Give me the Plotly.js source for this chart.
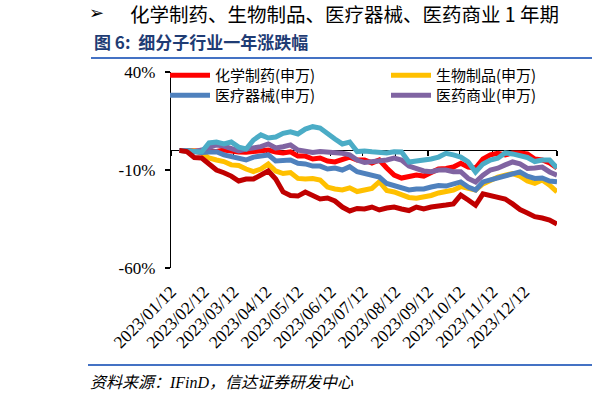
<!DOCTYPE html>
<html>
<head>
<meta charset="utf-8">
<script src="https://cdn.plot.ly/plotly-3.0.1.min.js"></script>
<style>
  body { margin: 0; background: #fff; }
  #chart { width: 597px; height: 401px; }
</style>
</head>
<body>
<div id="chart"></div>
<script>
// weekly closes, % change since start
let dates = ['2023-01-20','2023-01-27','2023-02-03','2023-02-10','2023-02-17','2023-02-24','2023-03-03','2023-03-10','2023-03-17','2023-03-24',
  '2023-03-31','2023-04-07','2023-04-14','2023-04-21','2023-04-28','2023-05-05','2023-05-12','2023-05-19','2023-05-26','2023-06-02',
  '2023-06-09','2023-06-16','2023-06-23','2023-06-30','2023-07-07','2023-07-14','2023-07-21','2023-07-28','2023-08-04','2023-08-11',
  '2023-08-18','2023-08-25','2023-09-01','2023-09-08','2023-09-15','2023-09-22','2023-09-29','2023-10-06','2023-10-13','2023-10-20',
  '2023-10-27','2023-11-03','2023-11-10','2023-11-17','2023-11-24','2023-12-01','2023-12-08','2023-12-15','2023-12-22','2023-12-29',
  '2024-01-05','2024-01-12'];

let chemPharma = [0,0,-0.3,0,-0.3,-0.5,0.2,-0.5,-0.8,-1, -0.5,0,0.2,-0.8,-1.3,-0.7,-2.9,-2.9,-4.4,-3.9,
  -5.4,-5.9,-4.9,-3.4,-4.9,-4.9,-6.4,-4.9,-9,-12.6, -14.1,-13.6,-12.6,-13.1,-11,-9.5,-9.2,-8.5,-6.6,-8.5,
  -9,-4.4,-2.3,-1.5,-2.3,-1.3,-1.3,-1.8,-4.4,-4.9, -6.4,-9];
let bioProducts = [0,0,-0.3,-1.3,-3.9,-4.9,-5.7,-7.4,-7.7,-9.5, -10.8,-9.5,-6.9,-10.5,-11.8,-11.3,-14.3,-14.6,-14.3,-15.1,
  -18.7,-19.7,-20.2,-19.1,-21,-20.2,-19.4,-16,-20.5,-21.2, -22.8,-24,-24.4,-23.8,-23,-21.7,-21.1,-20.2,-18.5,-19.4,
  -20.2,-17.1,-15.1,-13.6,-12.6,-11.8,-13.1,-15.6,-16.8,-15.1, -17.7,-21.2];
let devices = [0,0,-0.7,-1.1,-0.8,-0.7,-2.3,-3.1,-3.9,-4.9, -3.4,-2.6,-2.3,-5.4,-5.2,-4.9,-6.6,-6.9,-8,-8,
  -9.5,-9,-10,-8.3,-10.9,-12,-12.6,-13.6,-16.9,-17.9, -19.2,-20.2,-19.7,-19.7,-18.7,-17.9,-18.2,-17.4,-16.1,-18.7,
  -20.2,-16.1,-15.1,-14.1,-12.6,-11.5,-11,-13.1,-14.3,-14.1, -15.6,-16];
let commerce = [0,0,-0.6,0.2,1.7,2.8,2.2,1.2,-0.3,0.7, 1.2,1.9,3.3,1.2,1.9,2.8,0.2,-0.7,-1.1,-0.6,
  -0.8,-1.5,-1.5,-2.3,-4.9,-6.2,-5.9,-5.8,-4.9,-3.9, -4.9,-8,-9.5,-10.5,-10.9,-10,-10,-10.9,-10.9,-14.3,
  -16.1,-12.6,-10,-9.1,-7.4,-5.9,-6.9,-9.2,-9,-8.5, -11,-12.6];
let tcm = [0,0,-0.5,-0.8,3.8,4.3,3.3,4.3,1.7,0.7, 5.3,7.9,6.3,6.8,8.7,9.5,8.4,10.9,12.1,11.4,
  8.4,5.8,3.3,4.3,-0.6,-0.3,-0.7,-0.8,-1.3,-0.7, -0.8,-5.9,-5.4,-5.2,-4.4,-3.4,-1.5,-2.3,-3.4,-5.9,
  -11,-6.9,-4.9,-4,-1.3,-1.8,-2.9,-3.6,-5.7,-4.9, -4.9,-9];
let medService = [0,-0.6,-3.6,-3.9,-6.9,-10,-11.4,-13.1,-15.6,-14.6, -14.6,-12.6,-10.5,-14.6,-21.2,-23,-23.3,-21.2,-23.2,-24.8,
  -24.3,-25.8,-28.9,-30.9,-29.6,-29.9,-28.9,-30.4,-29.4,-28.9, -29.9,-30.7,-28.9,-29.9,-28.9,-28.7,-27.9,-27.3,-22.8,-25.3,
  -28,-22.2,-23,-24,-24.8,-27.3,-30.2,-31.9,-33.8,-34.5, -35.5,-37.6];

let tickDates = ['2023-01-12','2023-02-12','2023-03-12','2023-04-12','2023-05-12','2023-06-12','2023-07-12',
  '2023-08-12','2023-09-12','2023-10-12','2023-11-12','2023-12-12','2024-01-12'];
let labelDates = tickDates.slice(0, 12);
let labelText = labelDates.map(d => d.replace(/-/g, '/'));
let yTicks = [40, -10, -60];

// plot area in pixels: x 171..557, y 72..268
function px2x(px) { return (px - 171) / 386; }
function px2y(py) { return (268 - py) / 196; }

function series(name, y, color, legend, show) {
  return {
    x: dates, y: y, name: name, type: 'scatter', mode: 'lines',
    line: {color: color, width: 5},
    legend: legend, showlegend: show, hoverinfo: 'skip'
  };
}

let data = [
  series('化学制药(申万)', chemPharma, '#FF0000', 'legend', true),
  series('生物制品(申万)', bioProducts, '#FFC000', 'legend3', true),
  series('医疗器械(申万)', devices, '#4F81BD', 'legend2', true),
  series('医药商业(申万)', commerce, '#8064A2', 'legend4', true),
  series('中药(申万)', tcm, '#4BACC6', 'legend', false),
  series('医疗服务(申万)', medService, '#C00000', 'legend', false),
  {x: [dates[0]], y: [null], xaxis: 'x2', type: 'scatter', mode: 'lines', showlegend: false, hoverinfo: 'skip'}
];

let legendFont = {family: 'Noto Sans CJK SC', size: 15, color: '#000'};
function legendAt(px, py) {
  return {
    x: px2x(px), y: px2y(py), xanchor: 'left', yanchor: 'middle',
    bgcolor: 'rgba(0,0,0,0)', borderwidth: 0, font: legendFont, itemwidth: 40
  };
}

let serif = 'Liberation Serif, Times New Roman, serif';

let layout = {
  width: 597,
  height: 401,
  margin: {l: 171, r: 40, t: 72, b: 133, pad: 0},
  paper_bgcolor: '#fff',
  plot_bgcolor: '#fff',
  showlegend: true,
  legend: legendAt(165, 75.5),
  legend2: legendAt(165, 95.5),
  legend3: legendAt(386, 75.5),
  legend4: legendAt(386, 95.5),
  xaxis: {
    type: 'date',
    range: ['2023-01-12', '2024-01-12'],
    tickvals: labelDates,
    ticktext: labelText,
    tickangle: -45,
    ticks: '',
    showline: false,
    showgrid: false,
    zeroline: false,
    ticklabelstandoff: 9,
    tickfont: {family: serif, size: 17.5, color: '#000'},
    fixedrange: true
  },
  xaxis2: {
    type: 'date',
    overlaying: 'x',
    anchor: 'free',
    position: 0.6,
    range: ['2023-01-12', '2024-01-12'],
    tickvals: tickDates,
    showticklabels: false,
    ticks: 'outside',
    ticklen: 5,
    tickwidth: 1.2,
    tickcolor: '#000',
    showline: false,
    showgrid: false,
    zeroline: false,
    layer: 'below traces',
    fixedrange: true
  },
  yaxis: {
    range: [-60, 40],
    tickvals: yTicks,
    ticktext: yTicks.map(v => v + '%'),
    ticks: 'outside',
    ticklen: 5,
    tickwidth: 1.2,
    tickcolor: '#000',
    showline: true,
    linecolor: '#000',
    linewidth: 1.3,
    showgrid: false,
    zeroline: true,
    zerolinecolor: '#000',
    zerolinewidth: 1.3,
    ticklabelstandoff: 6,
    tickfont: {family: serif, size: 17, color: '#000'},
    fixedrange: true
  },
  shapes: [
    {type: 'line', xref: 'paper', yref: 'paper', x0: px2x(91), x1: px2x(592), y0: px2y(58), y1: px2y(58),
      line: {color: '#4472C4', width: 2}},
    {type: 'line', xref: 'paper', yref: 'paper', x0: px2x(88), x1: px2x(592), y0: px2y(365), y1: px2y(365),
      line: {color: '#4472C4', width: 2}}
  ],
  annotations: [
    {xref: 'paper', yref: 'paper', x: px2x(87), y: px2y(12), xanchor: 'left', yanchor: 'middle', showarrow: false,
      text: '➢', font: {family: 'DejaVu Sans', size: 18, color: '#000'}},
    {xref: 'paper', yref: 'paper', x: px2x(128), y: px2y(13), xanchor: 'left', yanchor: 'middle', showarrow: false,
      text: '化学制药、生物制品、医疗器械、医药商业 1 年期',
      font: {family: 'Noto Sans CJK SC', size: 19.5, color: '#000'}},
    {xref: 'paper', yref: 'paper', x: px2x(92), y: px2y(42), xanchor: 'left', yanchor: 'middle', showarrow: false,
      text: '<b>图 6:\u00a0\u00a0细分子行业一年涨跌幅</b>',
      font: {family: 'Noto Sans CJK SC', size: 17, color: '#1F3C74'}},
    {xref: 'paper', yref: 'paper', x: px2x(88), y: px2y(382), xanchor: 'left', yanchor: 'middle', showarrow: false,
      text: '<i>资料来源：IFinD，信达证券研发中心</i>',
      font: {family: serif + ', Noto Sans CJK SC', size: 16, color: '#000'}}
  ]
};

Plotly.newPlot('chart', data, layout, {staticPlot: true, displayModeBar: false});
</script>
</body>
</html>
